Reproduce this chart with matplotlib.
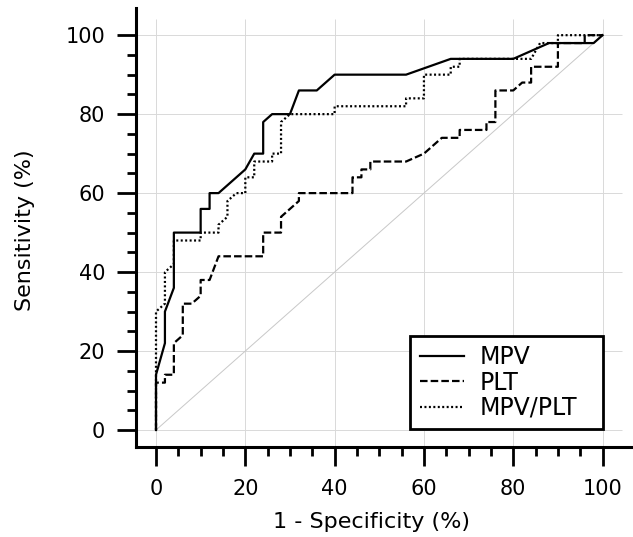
import matplotlib
matplotlib.use("Agg")
import matplotlib.pyplot as plt
from matplotlib.ticker import FixedLocator

# ROC curves, x = 1 - specificity (%), y = sensitivity (%)
mpv_x = [0, 0, 2, 2, 4, 4, 10, 10, 12, 12, 14, 20, 22, 24, 24, 26, 30, 32, 36, 40,
         56, 66, 80, 88, 98, 100]
mpv_y = [0, 14, 22, 30, 36, 50, 50, 56, 56, 60, 60, 66, 70, 70, 78, 80, 80, 86, 86, 90,
         90, 94, 94, 98, 98, 100]

plt_x = [0, 0, 2, 2, 4, 4, 6, 6, 8, 10, 10, 12, 14, 24, 24, 28, 28, 32, 32, 44, 44, 46,
         46, 48, 48, 56, 60, 62, 64, 68, 68, 74, 74, 76, 76, 80, 82, 84, 84, 90, 90, 96,
         96, 100]
plt_y = [0, 12, 12, 14, 14, 22, 24, 32, 32, 34, 38, 38, 44, 44, 50, 50, 54, 58, 60, 60,
         64, 64, 66, 66, 68, 68, 70, 72, 74, 74, 76, 76, 78, 78, 86, 86, 88, 88, 92, 92,
         98, 98, 100, 100]

ratio_x = [0, 0, 2, 2, 4, 4, 10, 10, 14, 14, 16, 16, 18, 20, 20, 22, 22, 26, 26, 28, 28,
           30, 40, 40, 56, 56, 60, 60, 66, 66, 68, 68, 84, 86, 90, 90, 100]
ratio_y = [0, 30, 32, 40, 42, 48, 48, 50, 50, 52, 54, 58, 60, 60, 64, 64, 68, 68, 70, 70,
           78, 80, 80, 82, 82, 84, 84, 90, 90, 92, 92, 94, 94, 98, 98, 100, 100]

ref_x = [0, 100]
ref_y = [0, 100]
ticks = [0, 20, 40, 60, 80, 100]
minor_ticks = list(range(0, 101, 5))

fig = plt.figure(figsize=(6.33, 5.37), dpi=100)
ax = fig.add_axes([0.2147, 0.1676, 0.7866, 0.8169])

# light grid, stopping a bit past 100 like the original
ax.vlines(ticks, -4.3, 104, color="#d9d9d9", linewidth=0.7, zorder=0)
ax.hlines(ticks, -4.5, 104.3, color="#d9d9d9", linewidth=0.7, zorder=0)
ax.plot(ref_x, ref_y, color="#c8c8c8", linewidth=0.7, zorder=1)

ax.plot(mpv_x, mpv_y, color="black", linewidth=1.6, linestyle="-", label="MPV", zorder=3)
ax.plot(plt_x, plt_y, color="black", linewidth=1.6, linestyle=(0, (3.4, 1.4)),
        label="PLT", zorder=3)
ax.plot(ratio_x, ratio_y, color="black", linewidth=1.6, linestyle=(0, (0.9, 1.1)),
        label="MPV/PLT", zorder=3)

for s in ("top", "right"):
    ax.spines[s].set_visible(False)
for s in ("left", "bottom"):
    ax.spines[s].set_linewidth(2.2)

ax.set_xticks(ticks)
ax.set_yticks(ticks)
ax.xaxis.set_minor_locator(FixedLocator(minor_ticks))
ax.yaxis.set_minor_locator(FixedLocator(minor_ticks))
ax.set_xlim(-4.5, 107)
ax.set_ylim(-4.3, 106.8)
ax.tick_params(which="major", direction="out", length=14, width=2, labelsize=15,
               colors="black")
ax.tick_params(which="minor", direction="out", length=6.5, width=2)
ax.tick_params(axis="x", which="major", pad=9)
ax.tick_params(axis="y", which="major", pad=8)

ax.set_xlabel("1 - Specificity (%)", fontsize=16)
ax.set_ylabel("Sensitivity (%)", fontsize=16)
ax.xaxis.set_label_coords(0.4735, -0.172)
ax.xaxis.label.set_va("center")
ax.yaxis.set_label_coords(-0.2227, 0.494)
ax.yaxis.label.set_va("center")

leg = ax.legend(loc="lower left", bbox_to_anchor=(56.9, 0.2, 43.2, 23.8),
                bbox_transform=ax.transData, mode="expand", borderaxespad=0,
                fontsize=17, frameon=True, fancybox=False, framealpha=1,
                edgecolor="black", handlelength=1.9, handletextpad=0.65,
                labelspacing=0.05, borderpad=0.4)
leg.get_frame().set_linewidth(2)

fig.savefig("out.png", dpi=100, facecolor="white")
